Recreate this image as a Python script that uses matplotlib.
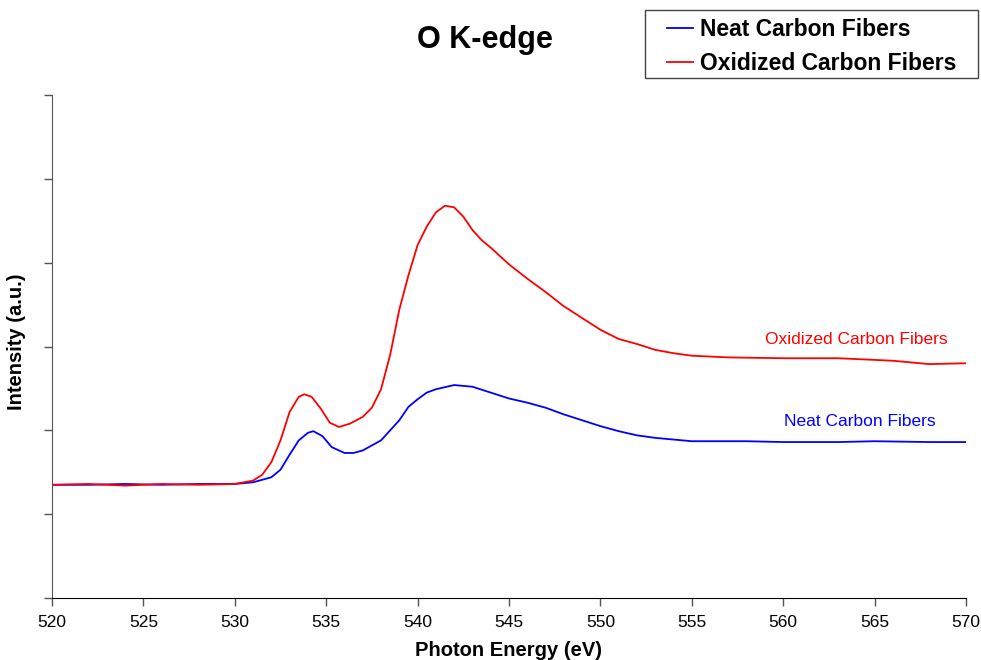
import numpy as np
import matplotlib
matplotlib.use('Agg')
import matplotlib.pyplot as plt
from matplotlib.patches import Rectangle

plt.rcParams['font.family'] = ['Liberation Sans', 'DejaVu Sans']

#%% data (arbitrary units)
ox_e = [520, 522, 524, 526, 528, 530, 531, 531.5, 532, 532.5, 533, 533.5, 533.8, 534.2, 534.7,
        535.2, 535.7, 536.3, 537, 537.5, 538, 538.5, 539, 539.5, 540, 540.5, 541, 541.5, 542,
        542.5, 543, 543.5, 544, 545, 546, 547, 548, 549, 550, 551, 552, 553, 554, 555, 557,
        560, 563, 566, 568, 570]
ox_i = [1.35, 1.36, 1.34, 1.36, 1.35, 1.36, 1.40, 1.47, 1.62, 1.88, 2.22, 2.40, 2.43, 2.40, 2.26,
        2.09, 2.04, 2.08, 2.16, 2.27, 2.49, 2.90, 3.44, 3.85, 4.21, 4.43, 4.60, 4.68, 4.66,
        4.55, 4.39, 4.27, 4.18, 3.98, 3.81, 3.65, 3.48, 3.34, 3.20, 3.09, 3.03, 2.96, 2.92, 2.89, 2.87,
        2.86, 2.86, 2.83, 2.79, 2.80]

neat_e = [520, 522, 524, 526, 528, 530, 531, 532, 532.5, 533, 533.5, 534, 534.3, 534.8, 535.3,
          536, 536.5, 537, 537.5, 538, 538.5, 539, 539.5, 540, 540.5, 541, 542, 543, 544, 545,
          546, 547, 548, 549, 550, 551, 552, 553, 555, 558, 560, 563, 565, 568, 570]
neat_i = [1.35, 1.35, 1.36, 1.35, 1.36, 1.36, 1.38, 1.44, 1.53, 1.71, 1.88, 1.97, 1.99, 1.93, 1.80,
          1.73, 1.73, 1.76, 1.82, 1.88, 2.00, 2.12, 2.28, 2.37, 2.45, 2.49, 2.54, 2.52, 2.45, 2.38,
          2.33, 2.27, 2.19, 2.12, 2.05, 1.99, 1.94, 1.91, 1.87, 1.87, 1.86, 1.86, 1.87, 1.86, 1.86]

#%% plot
W, H = 981, 660
fig = plt.figure(figsize=(W / 100, H / 100), dpi=100)
ax = fig.add_axes([0.053, 0.094, 0.9317, 0.762])

l1, = ax.plot(neat_e, neat_i, color='blue', linewidth=1.3, label='Neat Carbon Fibers')
l2, = ax.plot(ox_e, ox_i, color='red', linewidth=1.3, label='Oxidized Carbon Fibers')

ax.set_xlim(520, 570)
ax.set_ylim(0, 6)
ax.set_xticks(np.arange(520, 571, 5))
ax.set_yticks(np.arange(0, 7, 1))
ax.set_yticklabels([])
ax.tick_params(axis='both', direction='out', length=6, width=1, labelsize=12.5, color='#555555', pad=6)
ax.spines['top'].set_visible(False)
ax.spines['right'].set_visible(False)
ax.spines['left'].set_color('#555555')

ax.set_xlabel('Photon Energy (eV)', fontsize=14.5, fontweight='bold', labelpad=8)
ax.set_ylabel('Intensity (a.u.)', fontsize=14.5, fontweight='bold')
ax.yaxis.set_label_coords(-0.028, 0.509)
fig.text(0.4945, 0.939, 'O K-edge', fontsize=22, fontweight='bold', ha='center', va='center')

ax.text(564.0, 3.08, 'Oxidized Carbon Fibers', color='red', fontsize=12.5, ha='center', va='center')
ax.text(564.2, 2.10, 'Neat Carbon Fibers', color='blue', fontsize=12.5, ha='center', va='center')

# legend box drawn separately so the padding matches
fig.patches.append(Rectangle((645 / W, 1 - 78 / H), 333 / W, 68 / H, transform=fig.transFigure,
                             facecolor='white', edgecolor='#444444', linewidth=1, zorder=1))
leg = fig.legend(handles=[l1, l2], loc='upper left', bbox_to_anchor=(667 / W, 1 - 18 / H),
                 borderaxespad=0, frameon=False, prop={'weight': 'bold', 'size': 16.5},
                 handlelength=1.13, handletextpad=0.3, labelspacing=0.48, borderpad=0)
leg.set_zorder(2)

plt.savefig('out.png', dpi=100)
